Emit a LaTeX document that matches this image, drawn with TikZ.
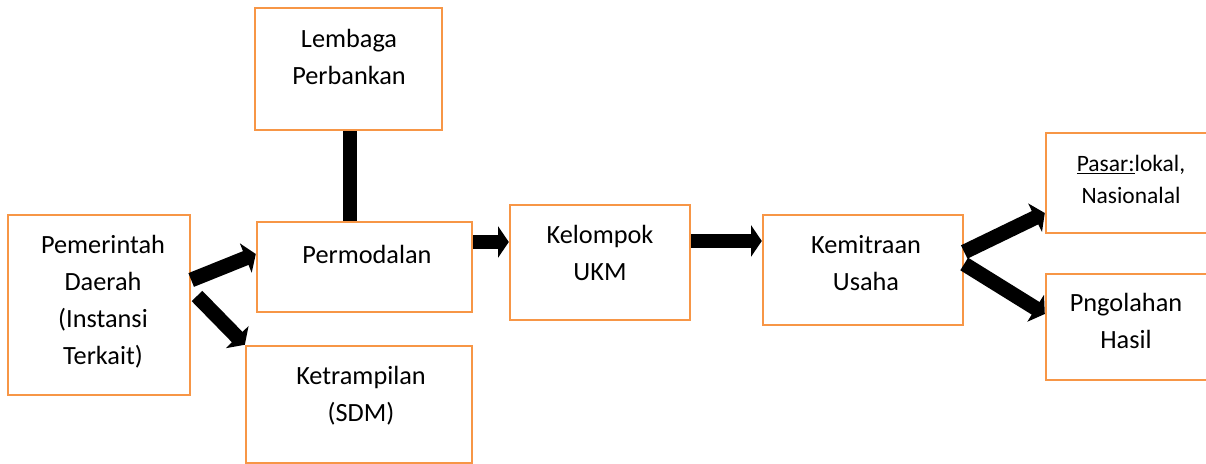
\documentclass[tikz,border=0pt]{standalone}
\usepackage{fontspec}
\setmainfont{Carlito}
\usetikzlibrary{arrows.meta, positioning, fit}

\begin{document}
\begin{tikzpicture}[
    x=0.025cm, y=-0.025cm,
    frame/.style={
        draw=boxorange, line width=0.06cm,
        inner sep=0pt, fit={#1}
    },
    txt/.style={
        align=center, inner sep=0pt,
        font=\fontsize{18.7pt}{26.3pt}\selectfont
    },
    small/.style={
        txt,
        font=\fontsize{16.7pt}{22.8pt}\selectfont
    },
    shaft/.style={line width=0.35cm},
    blockarrow/.style={
        line width=0.37cm,
        -{Triangle[length=0.27cm, width=0.78cm]}
    }
]
\definecolor{boxorange}{HTML}{F79646}

\useasboundingbox (0,0) rectangle (1206,464);
\clip (0,0) rectangle (1206,464);

% ===== BOXES =====
\node[frame={(255,8) (442,130)}]   (lemb) {};
\node[frame={(8,215) (190,395)}]   (pem)  {};
\node[frame={(257,222) (472,312)}] (perm) {};
\node[frame={(246,346) (472,463)}] (ket)  {};
\node[frame={(510,205) (690,320)}] (kel)  {};
\node[frame={(763,215) (963,325)}] (kem)  {};
\node[frame={(1046,133) (1215,233)}] (pasar) {};
\node[frame={(1046,274) (1215,380)}] (png)  {};

% ===== TEXTS =====
\node[txt] (lembT)  at (349,57)  {Lembaga\\Perbankan};
\node[txt] (pemT)   at (103,302) {Pemerintah\\Daerah\\(Instansi\\Terkait)};
\node[txt] (permT)  at (367,254) {Permodalan};
\node[txt] (ketT)   at (361,396) {Ketrampilan\\(SDM)};
\node[txt] (kelT)   at (600,253) {Kelompok\\UKM};
\node[txt] (kemT)   at (866,263) {Kemitraan\\Usaha};
\node[small] (pasarT) at (1131,179) {\underline{Pasar:}lokal,\\Nasionalal};
\node[txt] (pngT)   at (1126,321) {Pngolahan\\Hasil};

% ===== CONNECTORS =====
\draw[shaft] (lemb.south -| 350,0) -- (perm.north -| 350,0);
\draw[blockarrow] (pem.east |- 0,280) -- (perm.west |- 0,254);
\draw[blockarrow] (197,296) -- (ket.north west);
\draw[blockarrow] (perm.east |- 0,242) -- (kel.west |- 0,242);
\draw[blockarrow] (kel.east |- 0,241) -- (kem.west |- 0,241);
\draw[blockarrow] (kem.east |- 0,252) -- (pasar.west |- 0,213);
\draw[blockarrow] (kem.east |- 0,264) -- (png.west |- 0,314);

\end{tikzpicture}
\end{document}
